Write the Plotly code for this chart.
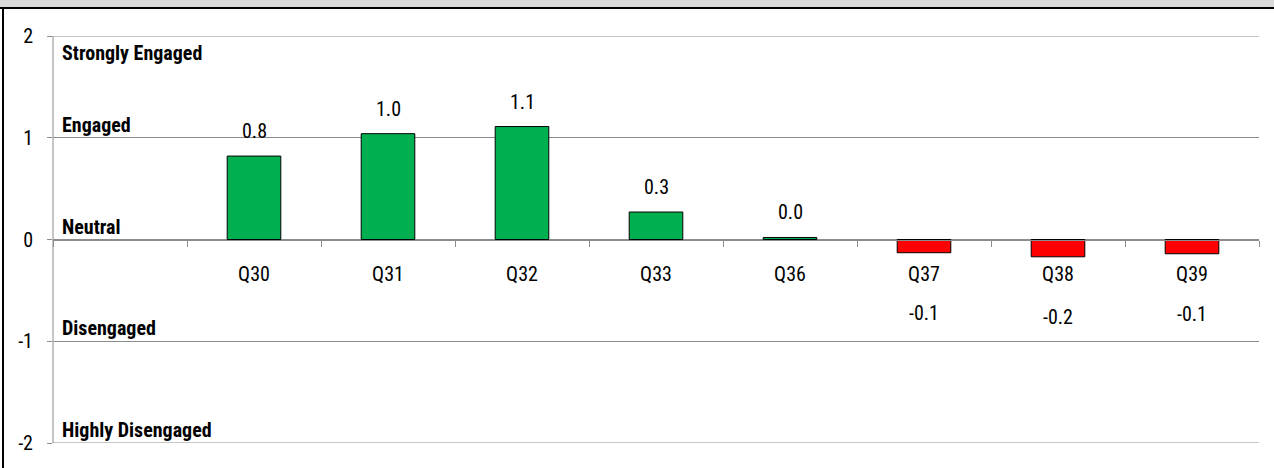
import plotly.graph_objects as go

# ---- data ----
questions = ["Q30", "Q31", "Q32", "Q33", "Q36", "Q37", "Q38", "Q39"]
scores = [0.82, 1.04, 1.11, 0.27, 0.02, -0.13, -0.17, -0.14]
axis_categories = [" "] + questions
y_ticks = [2, 1, 0, -1, -2]
level_labels = ["Strongly Engaged", "Engaged", "Neutral", "Disengaged", "Highly Disengaged"]
level_values = [2, 1, 0, -1, -2]

# ---- layout constants ----
W, H = 1274, 468
ML, MR, MT, MB = 53, 15, 36, 25
PW, PH = W - ML - MR, H - MT - MB
FONT = "Liberation Sans Narrow, Roboto Condensed, Liberation Sans, Arial"
FS = 20
GRID = "#8c8c8c"


def px_x(px):
    return (px - ML) / PW


def px_y(py):
    return (H - MB - py) / PH


colors = ["#00b050" if v >= 0 else "#ff0000" for v in scores]

fig = go.Figure()
fig.add_trace(go.Bar(
    x=questions, y=scores, width=0.4,
    marker=dict(color=colors, line=dict(color="#000000", width=1)),
    hoverinfo="skip", showlegend=False,
))

annotations = []
for q, v in zip(questions, scores):
    txt = f"{v:.1f}"
    if v >= 0:
        annotations.append(dict(x=q, y=v, xref="x", yref="y", text=txt, showarrow=False,
                                yanchor="bottom", yshift=11,
                                font=dict(family=FONT, size=FS, color="#000000")))
    else:
        annotations.append(dict(x=q, y=v, xref="x", yref="y", text=txt, showarrow=False,
                                yanchor="middle", yshift=-60,
                                font=dict(family=FONT, size=FS, color="#000000")))

for lab, val in zip(level_labels, level_values):
    top = val == max(level_values)
    annotations.append(dict(x=0, y=val, xref="paper", yref="y", text="<b>%s</b>" % lab,
                            showarrow=False, xanchor="left", xshift=7,
                            yanchor="top" if top else "bottom", yshift=-3 if top else -1,
                            font=dict(family=FONT, size=FS, color="#000000")))

shapes = [
    dict(type="rect", xref="paper", yref="paper", x0=px_x(-2), x1=px_x(W + 2),
         y0=px_y(7), y1=px_y(-2), fillcolor="#d9d9d9", line=dict(width=0), layer="above"),
    dict(type="line", xref="paper", yref="paper", x0=px_x(0), x1=px_x(W),
         y0=px_y(8), y1=px_y(8), line=dict(color="#000000", width=2), layer="above"),
    dict(type="line", xref="paper", yref="paper", x0=px_x(3), x1=px_x(3),
         y0=px_y(8), y1=px_y(H + 2), line=dict(color="#000000", width=2), layer="above"),
    # value axis line
    dict(type="line", xref="paper", yref="y", x0=0, x1=0,
         y0=min(y_ticks), y1=max(y_ticks), line=dict(color=GRID, width=1), layer="below"),
]
# grid lines at the range edges (plotly hides them at the boundary)
for t in (max(y_ticks), min(y_ticks)):
    shapes.append(dict(type="line", xref="paper", yref="y", x0=0, x1=1, y0=t, y1=t,
                       line=dict(color=GRID, width=1), layer="below"))

fig.update_layout(
    width=W, height=H,
    margin=dict(l=ML, r=MR, t=MT, b=MB, pad=0),
    paper_bgcolor="#ffffff", plot_bgcolor="#ffffff",
    font=dict(family=FONT, size=FS, color="#000000"),
    bargap=0.6,
    annotations=annotations,
    shapes=shapes,
    xaxis=dict(
        type="category", categoryorder="array", categoryarray=axis_categories,
        range=[-0.5, len(axis_categories) - 0.5],
        anchor="free", position=0.5,
        showline=True, linecolor=GRID, linewidth=1,
        showgrid=False, zeroline=False,
        ticks="outside", tickson="boundaries", ticklen=6, tickcolor=GRID,
        ticklabelstandoff=16,
        tickfont=dict(family=FONT, size=FS, color="#000000"),
    ),
    yaxis=dict(
        range=[-2, 2], tickvals=y_ticks, ticktext=[str(t) for t in y_ticks],
        showline=False,
        showgrid=True, gridcolor=GRID, gridwidth=1,
        zeroline=True, zerolinecolor=GRID, zerolinewidth=1,
        ticks="outside", ticklen=5, tickcolor=GRID,
        ticklabelstandoff=10,
        tickfont=dict(family=FONT, size=FS, color="#000000"),
    ),
)

fig.write_html("out.html", config={"displayModeBar": False},
               post_script="document.body.style.margin='0';document.body.style.overflow='hidden';")
